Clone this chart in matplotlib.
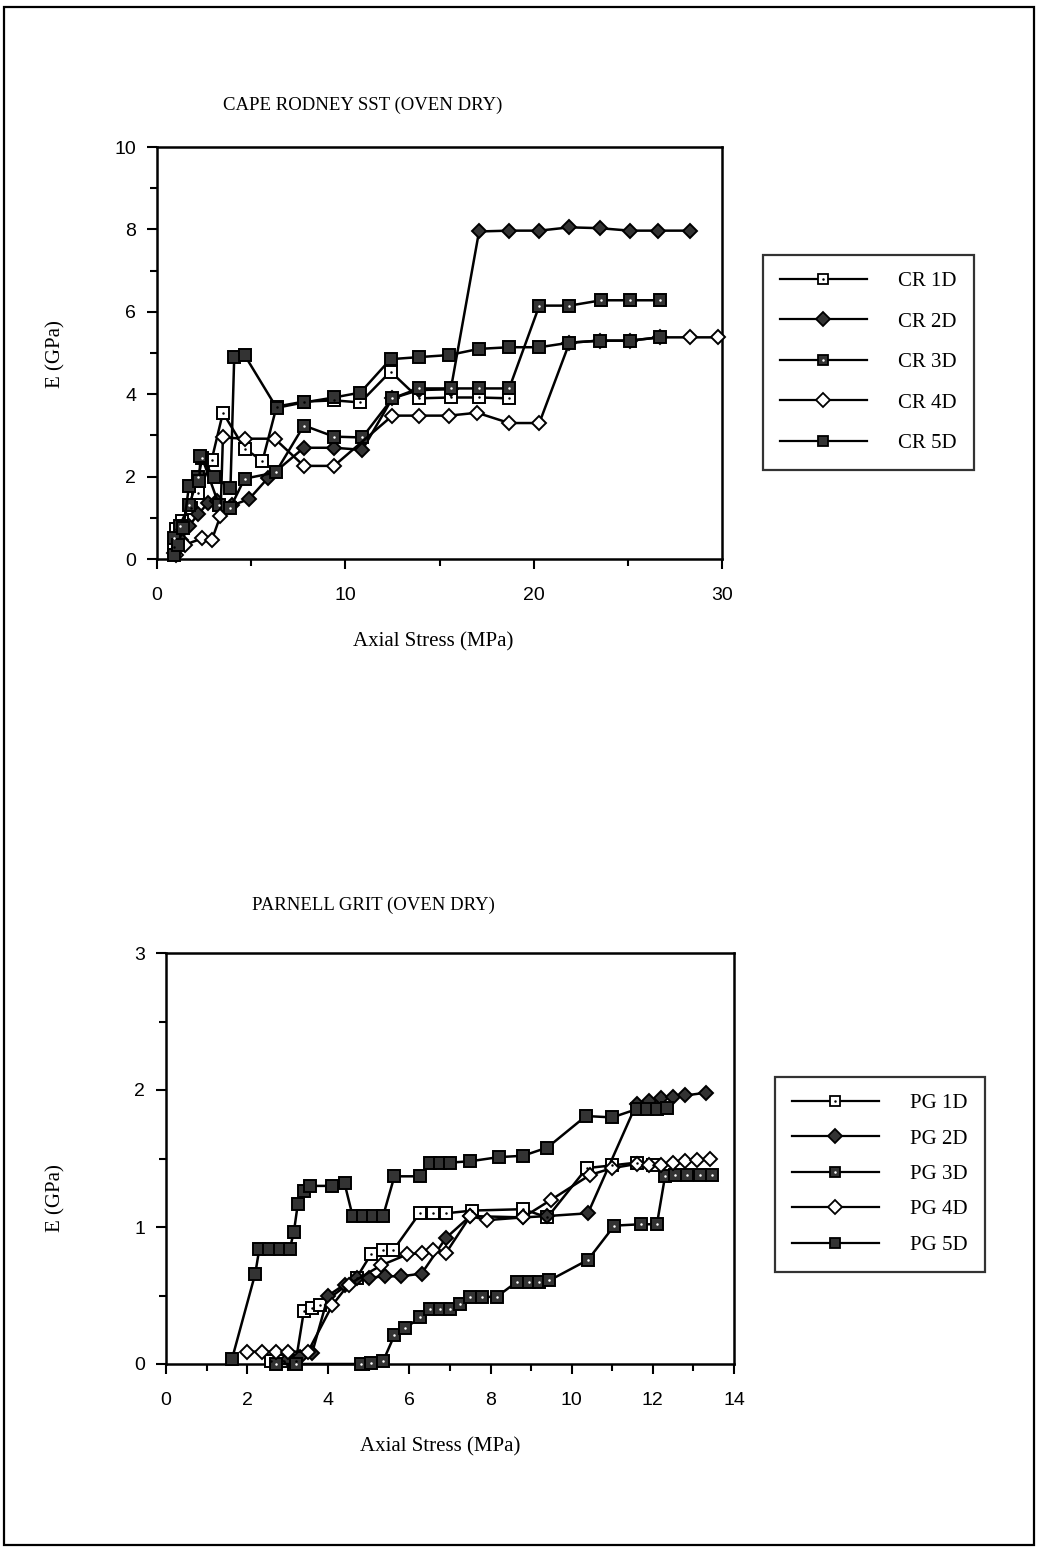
"""Modulus vs axial stress for Cape Rodney SST and Parnell Grit (oven dry).

Two stacked panels, each with five specimens. Values are read off a scanned
figure, so they are approximate.
"""
import matplotlib
matplotlib.use("Agg")
import matplotlib.pyplot as plt
from matplotlib.lines import Line2D
from matplotlib.patches import Rectangle
from matplotlib.ticker import MultipleLocator

OUT_PATH = "out.png"
W, H = 1039, 1552

SERIF = ["Liberation Serif", "DejaVu Serif"]
SANS = ["Liberation Sans", "DejaVu Sans"]
DARK = "#333333"

# ---- Cape Rodney SST (oven dry) ----
CR_TITLE = "CAPE RODNEY SST (OVEN DRY)"
CR_LABELS = ["CR 1D", "CR 2D", "CR 3D", "CR 4D", "CR 5D"]

CR1D_X = [0.9, 1.0, 1.35, 1.8, 2.2, 2.9, 3.5, 4.65, 5.6, 6.35, 7.8, 9.4, 10.8, 12.4,
          13.9, 15.6, 17.1, 18.7]
CR1D_Y = [0.3, 0.73, 0.92, 1.25, 1.6, 2.4, 3.55, 2.68, 2.38, 3.7, 3.82, 3.85, 3.8, 4.55,
          3.9, 3.92, 3.92, 3.9]

CR2D_X = [0.9, 1.3, 1.7, 2.2, 2.7, 3.2, 4.0, 4.9, 5.9, 7.8, 9.4, 10.9, 12.5, 13.9, 15.6,
          17.1, 18.7, 20.3, 21.9, 23.5, 25.1, 26.6, 28.3]
CR2D_Y = [0.15, 0.45, 0.8, 1.1, 1.35, 1.4, 1.3, 1.46, 1.97, 2.7, 2.7, 2.65, 3.9, 4.1, 4.12,
          7.95, 7.97, 7.97, 8.05, 8.03, 7.97, 7.97, 7.97]

CR3D_X = [0.9, 1.2, 1.7, 2.2, 2.4, 3.3, 3.9, 4.65, 6.3, 7.8, 9.4, 10.9, 12.5, 13.9, 15.6,
          17.1, 18.7, 20.3, 21.9, 23.6, 25.1, 26.7]
CR3D_Y = [0.5, 0.8, 1.3, 2.0, 2.45, 1.3, 1.25, 1.95, 2.1, 3.24, 2.97, 2.95, 3.9, 4.14, 4.14,
          4.14, 4.14, 6.15, 6.15, 6.28, 6.28, 6.28]

CR4D_X = [1.0, 1.5, 2.4, 2.9, 3.37, 3.5, 4.65, 6.25, 7.8, 9.4, 12.5, 13.9, 15.5, 17.0,
          18.7, 20.3, 21.9, 23.5, 25.1, 26.7, 28.3, 29.8]
CR4D_Y = [0.1, 0.35, 0.5, 0.45, 1.05, 2.95, 2.92, 2.92, 2.26, 2.26, 3.48, 3.48, 3.48, 3.55,
          3.3, 3.3, 5.25, 5.3, 5.3, 5.38, 5.38, 5.38]

CR5D_X = [0.9, 1.1, 1.4, 1.7, 2.25, 2.3, 3.0, 3.9, 4.1, 4.65, 6.35, 7.8, 9.4, 10.8, 12.4,
          13.9, 15.5, 17.1, 18.7, 20.3, 21.9, 23.5, 25.1, 26.7]
CR5D_Y = [0.1, 0.35, 0.75, 1.78, 1.9, 2.5, 2.0, 1.72, 4.9, 4.95, 3.67, 3.8, 3.92, 4.04, 4.85,
          4.9, 4.95, 5.1, 5.14, 5.14, 5.25, 5.3, 5.3, 5.38]

# ---- Parnell Grit (oven dry) ----
PG_TITLE = "PARNELL GRIT (OVEN DRY)"
PG_LABELS = ["PG 1D", "PG 2D", "PG 3D", "PG 4D", "PG 5D"]

PG1D_X = [2.6, 2.9, 3.2, 3.4, 3.6, 3.8, 4.7, 5.05, 5.35, 5.6, 6.25, 6.57, 6.9, 7.55, 8.8,
          9.4, 10.37, 11.0, 11.6, 12.0]
PG1D_Y = [0.02, 0.02, 0.02, 0.39, 0.41, 0.43, 0.63, 0.8, 0.83, 0.83, 1.1, 1.1, 1.1, 1.12,
          1.13, 1.07, 1.43, 1.45, 1.47, 1.45]

PG2D_X = [3.0, 3.3, 3.6, 4.0, 4.4, 4.7, 5.0, 5.4, 5.8, 6.3, 6.9, 7.5, 8.8, 9.4, 10.4, 11.6,
          11.9, 12.2, 12.5, 12.8, 13.3]
PG2D_Y = [0.04, 0.05, 0.08, 0.5, 0.58, 0.63, 0.63, 0.64, 0.64, 0.66, 0.92, 1.08, 1.07, 1.08,
          1.1, 1.9, 1.92, 1.94, 1.95, 1.96, 1.98]

PG3D_X = [2.7, 3.2, 4.8, 5.05, 5.35, 5.63, 5.9, 6.25, 6.5, 6.75, 7.0, 7.25, 7.5, 7.8, 8.15,
          8.65, 8.95, 9.2, 9.45, 10.4, 11.05, 11.7, 12.1, 12.3, 12.55, 12.85, 13.15, 13.45]
PG3D_Y = [0.0, 0.0, 0.0, 0.01, 0.02, 0.21, 0.26, 0.34, 0.4, 0.4, 0.4, 0.44, 0.49, 0.49, 0.49,
          0.6, 0.6, 0.6, 0.61, 0.76, 1.01, 1.02, 1.02, 1.37, 1.38, 1.38, 1.38, 1.38]

PG4D_X = [2.0, 2.37, 2.7, 3.0, 3.5, 4.1, 4.5, 5.3, 5.95, 6.3, 6.57, 6.9, 7.5, 7.9, 8.8, 9.5,
          10.45, 11.0, 11.6, 11.9, 12.2, 12.5, 12.8, 13.1, 13.4]
PG4D_Y = [0.09, 0.09, 0.09, 0.09, 0.09, 0.43, 0.58, 0.72, 0.8, 0.81, 0.83, 0.81, 1.08, 1.05,
          1.07, 1.2, 1.38, 1.43, 1.46, 1.45, 1.45, 1.47, 1.48, 1.49, 1.5]

PG5D_X = [1.63, 2.2, 2.3, 2.55, 2.8, 3.05, 3.15, 3.25, 3.4, 3.55, 4.1, 4.4, 4.6, 4.85, 5.1,
          5.35, 5.63, 6.25, 6.5, 6.75, 7.0, 7.5, 8.2, 8.8, 9.4, 10.35, 11.0, 11.6, 11.85,
          12.1, 12.35]
PG5D_Y = [0.04, 0.66, 0.84, 0.84, 0.84, 0.84, 0.96, 1.17, 1.26, 1.3, 1.3, 1.32, 1.08, 1.08,
          1.08, 1.08, 1.37, 1.37, 1.47, 1.47, 1.47, 1.48, 1.51, 1.52, 1.58, 1.81, 1.8, 1.86,
          1.86, 1.86, 1.87]

# marker style per specimen slot: (marker, face, centre dot colour or None)
STYLES = [
    ("s", "white", "black"),  # 1D: open square, dot in middle
    ("D", DARK, None),        # 2D: filled diamond
    ("s", DARK, "white"),     # 3D: filled square, white dot
    ("D", "white", None),     # 4D: open diamond
    ("s", DARK, None),        # 5D: filled square
]


def px(x, y):
    """Pixel position on the page (origin top-left) -> figure fraction."""
    return x / W, 1 - y / H


def plot_series(ax, xs, ys, style, ms):
    marker, face, dot = style
    size = ms * 0.8 if marker == "D" else ms
    ax.plot(xs, ys, color="black", linewidth=1.8, marker=marker, markersize=size,
            markerfacecolor=face, markeredgecolor="black", markeredgewidth=1.4,
            clip_on=False, zorder=3)
    if dot:
        ax.plot(xs, ys, linestyle="", marker="o", markersize=1.8, color=dot,
                markeredgewidth=0, clip_on=False, zorder=4)


def legend_handles(labels):
    handles = []
    for label, (marker, face, dot) in zip(labels, STYLES):
        size = 7.5 if marker == "s" else 7
        base = Line2D([0], [0], color="black", linewidth=1.6, marker=marker,
                      markersize=size, markerfacecolor=face, markeredgecolor="black",
                      markeredgewidth=1.3)
        if dot:
            handles.append((base, Line2D([0], [0], linestyle="", marker="o",
                                         markersize=1.8, color=dot, markeredgewidth=0)))
        else:
            handles.append(base)
    return handles


def style_axes(ax, xmax, ymax, xmajor, xminor, ymajor, yminor):
    ax.set_xlim(0, xmax)
    ax.set_ylim(0, ymax)
    ax.xaxis.set_major_locator(MultipleLocator(xmajor))
    ax.xaxis.set_minor_locator(MultipleLocator(xminor))
    ax.yaxis.set_major_locator(MultipleLocator(ymajor))
    ax.yaxis.set_minor_locator(MultipleLocator(yminor))
    ax.tick_params(which="both", direction="out", width=1.5, colors="black",
                   labelsize=14)
    ax.tick_params(axis="x", pad=13)
    ax.tick_params(axis="y", pad=8)
    ax.tick_params(which="major", length=7)
    ax.tick_params(which="minor", length=5)
    for lab in ax.get_xticklabels() + ax.get_yticklabels():
        lab.set_fontfamily(SANS)
    for sp in ax.spines.values():
        sp.set_linewidth(1.8)


def add_legend(fig, labels, anchor, spacing):
    leg = fig.legend(legend_handles(labels), labels, loc="upper left",
                     bbox_to_anchor=px(*anchor), frameon=True, fancybox=False,
                     prop={"family": SERIF, "size": 15}, handlelength=4.2,
                     handletextpad=1.5, borderpad=0.8, borderaxespad=0,
                     labelspacing=spacing)
    leg.get_frame().set_edgecolor("black")
    leg.get_frame().set_linewidth(1.6)
    return leg


def main():
    fig = plt.figure(figsize=(W / 100, H / 100), dpi=100)

    # page border of the scanned sheet
    fig.patches.append(Rectangle(px(4, 1545), 1030 / W, 1538 / H,
                                 transform=fig.transFigure, fill=False,
                                 edgecolor="black", linewidth=1.6))

    ax_cr = fig.add_axes([157 / W, 1 - 559 / H, 565 / W, 412 / H])
    ax_pg = fig.add_axes([166 / W, 1 - 1364 / H, 568 / W, 411 / H])

    cr_data = [(CR1D_X, CR1D_Y), (CR2D_X, CR2D_Y), (CR3D_X, CR3D_Y),
               (CR4D_X, CR4D_Y), (CR5D_X, CR5D_Y)]
    pg_data = [(PG1D_X, PG1D_Y), (PG2D_X, PG2D_Y), (PG3D_X, PG3D_Y),
               (PG4D_X, PG4D_Y), (PG5D_X, PG5D_Y)]

    for (xs, ys), st in zip(cr_data, STYLES):
        plot_series(ax_cr, xs, ys, st, ms=9)
    for (xs, ys), st in zip(pg_data, STYLES):
        plot_series(ax_pg, xs, ys, st, ms=8.5)

    style_axes(ax_cr, 30, 10, 10, 5, 2, 1)
    style_axes(ax_pg, 14, 3, 2, 1, 1, 0.5)

    # titles and axis labels sit at fixed page positions, as on the scan
    text_kw = dict(family=SERIF, ha="center", va="center")
    fig.text(*px(363, 105), CR_TITLE, fontsize=13.5, **text_kw)
    fig.text(*px(373, 905), PG_TITLE, fontsize=13.5, **text_kw)
    fig.text(*px(433, 642), "Axial Stress (MPa)", fontsize=15, **text_kw)
    fig.text(*px(440, 1447), "Axial Stress (MPa)", fontsize=15, **text_kw)
    fig.text(*px(56, 354), "E (GPa)", fontsize=15, rotation=90, **text_kw)
    fig.text(*px(56, 1198), "E (GPa)", fontsize=15, rotation=90, **text_kw)

    add_legend(fig, CR_LABELS, (763, 255), 1.0)
    add_legend(fig, PG_LABELS, (775, 1077), 0.76)

    fig.savefig(OUT_PATH, dpi=100)
    print(f"Saved: {OUT_PATH}")


if __name__ == "__main__":
    main()
